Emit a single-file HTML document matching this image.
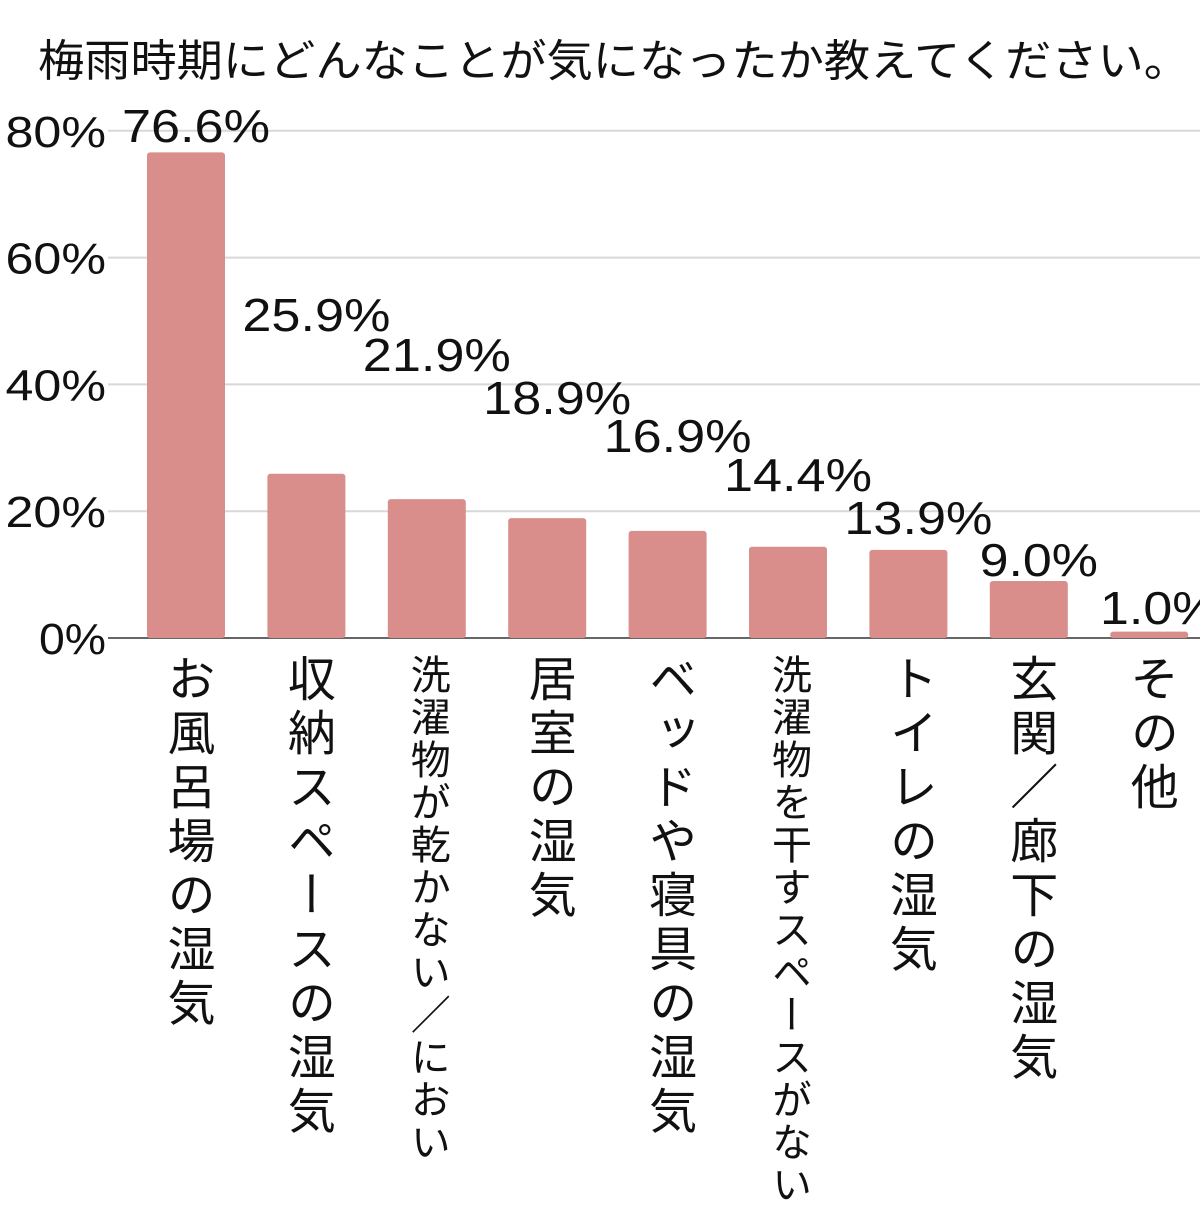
<!DOCTYPE html>
<html><head><meta charset="utf-8"><style>
html,body{margin:0;padding:0;background:#fff;}
svg text{font-family:"Liberation Sans","Noto Sans CJK JP",sans-serif;fill:#111;}
</style></head><body>
<svg id="chart" width="1200" height="1200" xmlns="http://www.w3.org/2000/svg">
<text x="38" y="76" font-size="44" textLength="1152" lengthAdjust="spacingAndGlyphs">梅雨時期にどんなことが気になったか教えてください。</text>
<g id="grid"></g><g id="bars"></g><g id="labels"></g>
</svg>
<script>
const categories=["お風呂場の湿気","収納スペースの湿気","洗濯物が乾かない／におい","居室の湿気","ベッドや寝具の湿気","洗濯物を干すスペースがない","トイレの湿気","玄関／廊下の湿気","その他"];
const values=[76.6,25.9,21.9,18.9,16.9,14.4,13.9,9.0,1.0];
const ticks=[0,20,40,60,80];
const tickLabels=["0%","20%","40%","60%","80%"];
const labelY=[142,331,371,414,452,491,534,576,624];
const NS="http://www.w3.org/2000/svg";
const y0=638, pxPer=6.34, x0=147, step=120.4, bw=78;
const yS=v=>y0-v*pxPer, xS=i=>x0+i*step;
function mk(t,a,p){const e=document.createElementNS(NS,t);for(const k in a)e.setAttribute(k,a[k]);p.appendChild(e);return e;}
const grid=document.getElementById('grid'),bars=document.getElementById('bars'),labels=document.getElementById('labels');
ticks.forEach((t,i)=>{
  const l=mk('line',{x1:108,x2:1200,y1:yS(t),y2:yS(t),stroke:t===0?'#666':'#d8d8d8','stroke-width':2},grid);
  
  
  const lab=tickLabels[i];
  const tx=mk('text',{x:106,y:yS(t)+16,'font-size':44,'text-anchor':'end',textLength:lab.length*33.5,lengthAdjust:'spacingAndGlyphs'},grid);
  tx.textContent=lab;
  
  
});
values.forEach((v,i)=>{
  const r=mk('rect',{x:xS(i),y:yS(v),width:bw,height:y0-yS(v),rx:3,fill:'#d98e8c'},bars);
  
  
  const s=v.toFixed(1)+'%';
  const t=mk('text',{x:xS(i)+bw/2+10,y:labelY[i],'font-size':46,'text-anchor':'middle',textLength:s.length*29.6,lengthAdjust:'spacingAndGlyphs'},labels);
  t.textContent=s;
  
  
  const small=categories[i].length>10;
  const fs=small?40:48;
  const c=mk('text',{x:xS(i)+bw/2,y:654,'font-size':fs},labels);
  c.setAttribute('style','writing-mode:vertical-rl;letter-spacing:'+(small?'2.5':'6')+'px');
  c.textContent=categories[i];
  
  
});
</script>
</body></html>
